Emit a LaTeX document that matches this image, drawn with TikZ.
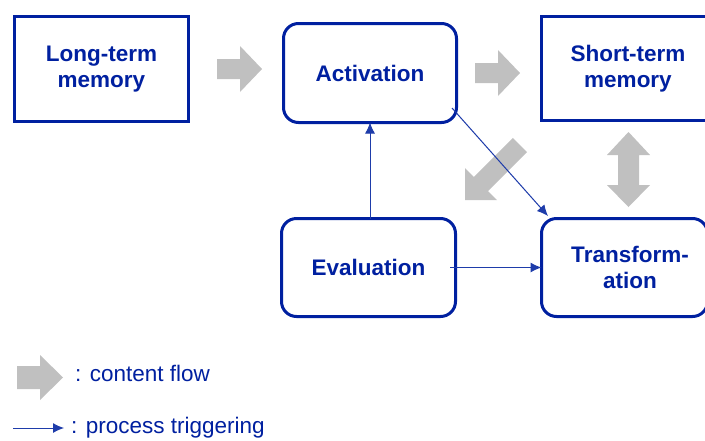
\documentclass[tikz,border=0pt]{standalone}
\usepackage{fontspec}
\setmainfont{Liberation Sans}
\usetikzlibrary{arrows.meta}
\definecolor{navy}{RGB}{0,32,160}
\definecolor{lineblue}{RGB}{30,60,170}
\definecolor{arrgray}{RGB}{192,192,192}
\begin{document}
\begin{tikzpicture}[x=1pt,y=-1pt,
  boxbase/.style={draw=navy,line width=3pt,inner sep=0pt,outer sep=0pt,
    text=navy,align=center,font=\fontsize{22.5}{25.5}\selectfont\bfseries},
  sqbox/.style={boxbase},
  rbox/.style={boxbase,rounded corners=15pt},
  flow/.style={fill=arrgray,draw=none},
  trig/.style={draw=lineblue,line width=1pt,-{Latex[length=11pt,width=10pt]}},
  legtext/.style={text=navy,anchor=west,inner sep=0pt,font=\fontsize{22.5}{26}\selectfont}
]
\clip (0,0) rectangle (705,440);
\fill[white] (0,0) rectangle (705,440);

% boxes
\node[sqbox,minimum width=174pt,minimum height=105pt] (ltm) at (101.5,69) {Long-term\\memory};
\node[rbox,minimum width=173pt,minimum height=99pt] (act) at (370,73) {Activation};
\node[sqbox,minimum width=173pt,minimum height=104pt] (stm) at (628,68.5) {Short-term\\memory};
\node[rbox,minimum width=174pt,minimum height=98pt] (eval) at (368.5,267.5) {Evaluation};
\node[rbox,minimum width=166pt,minimum height=98pt] (trans) at (624.5,267.5) {};
\node[text=navy,align=center,inner sep=0pt,font=\fontsize{22.5}{25.5}\selectfont\bfseries] (transtext) at ([xshift=5.5pt]trans.center) {Transform-\\ation};

% content-flow arrows
\fill[flow] (217,59) -- (240,59) -- (240,46) -- (262,69) -- (240,92) -- (240,79) -- (217,79) -- cycle;
\fill[flow] (475,63) -- (498,63) -- (498,50) -- (520,73) -- (498,96) -- (498,83) -- (475,83) -- cycle;
\fill[flow] (512.9,137.9) -- (527.1,152.1) -- (488.1,191.1) -- (497,200) -- (465,200) -- (465,168) -- (473.9,176.9) -- cycle;
\fill[flow] (628.5,132) -- (650,155) -- (639,155) -- (639,185) -- (650,185) -- (628.5,207) -- (607,185) -- (618,185) -- (618,155) -- (607,155) -- cycle;

% process-triggering arrows
\coordinate (actout) at (452,108);
\coordinate (transin) at (548,216);
\coordinate (evalout) at (450,267.5);
\draw[trig] (act.south |- eval.north) -- (act.south);
\draw[trig] (actout) -- (transin);
\draw[trig] (evalout) -- (trans.west);

% legend
\fill[flow] (17,366) -- (40,366) -- (40,355) -- (63,377.5) -- (40,400) -- (40,389) -- (17,389) -- cycle;
\node[legtext] (leg1) at (75,373) {: content flow};
\coordinate (legs) at (13,428);
\coordinate (lege) at (64,428);
\draw[trig] (legs) -- (lege);
\node[legtext] (leg2) at (71,428) {: process triggering};
\end{tikzpicture}
\end{document}
